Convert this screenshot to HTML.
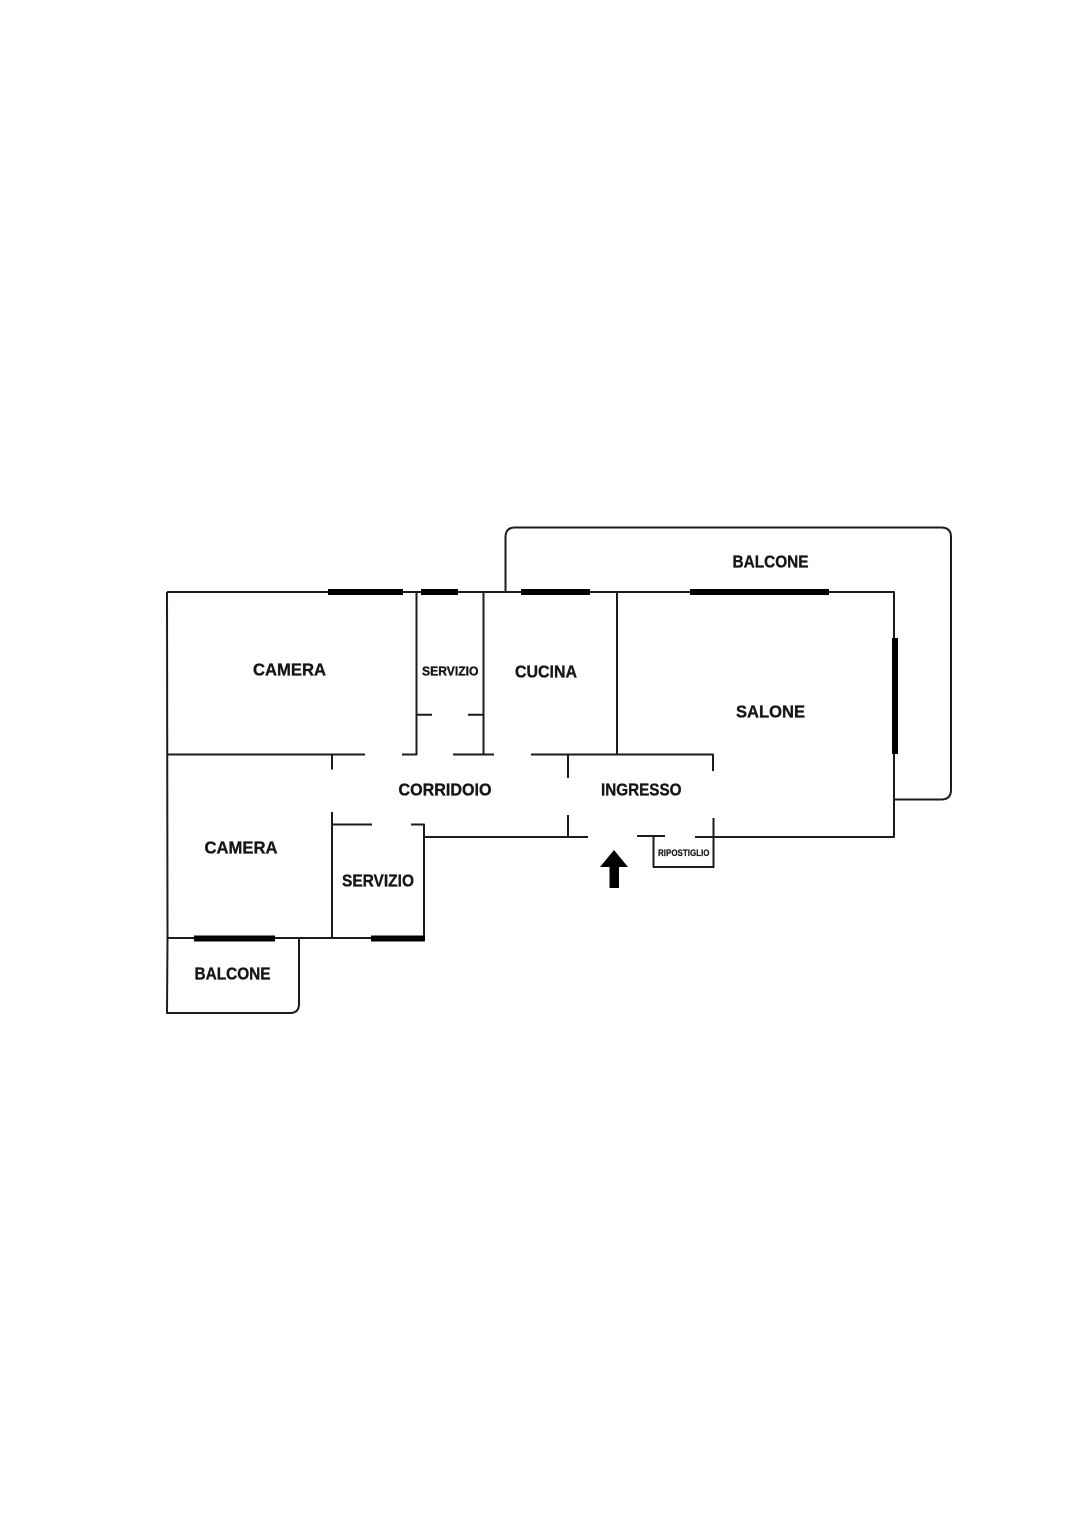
<!DOCTYPE html>
<html>
<head>
<meta charset="utf-8">
<style>
html,body{margin:0;padding:0;background:#fff;width:1085px;height:1535px;overflow:hidden}
svg{display:block}
.w{stroke:#1c1c1c;stroke-width:2;fill:none;stroke-linecap:butt;stroke-linejoin:round}
.t{stroke:#000;stroke-width:6;fill:none}
text{font-family:"Liberation Sans",sans-serif;font-weight:bold;fill:#161616;stroke:#161616;stroke-width:.35px;font-size:17.5px}
</style>
</head>
<body>
<svg width="1085" height="1535" viewBox="0 0 1085 1535" xmlns="http://www.w3.org/2000/svg">
<rect width="1085" height="1535" fill="#fff"/>
<g class="w">
<path d="M167 592H894V837H695"/>
<path d="M167 592L167.500 938L167 1013H290Q299 1013 299 1004V938"/>
<path d="M505.500 592V537Q505.500 527.500 515 527.500H941Q951 527.500 951 537V790Q951 799.500 941 799.500H894"/>
<path d="M167 754.500H365M402 754.500H416.500V592"/>
<path d="M417 714.700H432M468 714.700H483.500M483.500 592V754.500M453 754.500H494"/>
<path d="M531 754.500H713V771M617 592V754.500M568 754.500V778M568 815V837"/>
<path d="M332 754.500V769.500M332 812V938M332 824.500H372M411 824.500H424V938"/>
<path d="M167 938H424"/>
<path d="M424 837H588M637 836H665M653.500 836V867H713.500M713.500 818V868"/>
</g>
<g class="t">
<path d="M328 592H403M421 592H458M521 592H590M690 592H829"/>
<path d="M194 938.500H275M371 938.500H425"/>
<path d="M895 638V754"/>
</g>
<path d="M614 850L628 867H619V888H609.500V867H600Z" fill="#000"/>
<g>
<text x="253" y="675.500" textLength="73" lengthAdjust="spacingAndGlyphs">CAMERA</text>
<text x="204.500" y="853.500" textLength="73" lengthAdjust="spacingAndGlyphs">CAMERA</text>
<text x="515" y="677.500" textLength="62" lengthAdjust="spacingAndGlyphs">CUCINA</text>
<text x="736" y="717.500" textLength="69" lengthAdjust="spacingAndGlyphs">SALONE</text>
<text x="732.500" y="567.500" textLength="76" lengthAdjust="spacingAndGlyphs">BALCONE</text>
<text x="194.500" y="979.500" textLength="76" lengthAdjust="spacingAndGlyphs">BALCONE</text>
<text x="398.500" y="795.500" textLength="93" lengthAdjust="spacingAndGlyphs">CORRIDOIO</text>
<text x="601" y="795.500" textLength="80.500" lengthAdjust="spacingAndGlyphs">INGRESSO</text>
<text x="342" y="886.500" textLength="72" lengthAdjust="spacingAndGlyphs">SERVIZIO</text>
<text x="422" y="675.500" textLength="56.500" lengthAdjust="spacingAndGlyphs" style="font-size:12.500px">SERVIZIO</text>
<text x="658" y="856" textLength="51.500" lengthAdjust="spacingAndGlyphs" style="font-size:9px;stroke-width:.2px">RIPOSTIGLIO</text>
</g>
</svg>
</body>
</html>
